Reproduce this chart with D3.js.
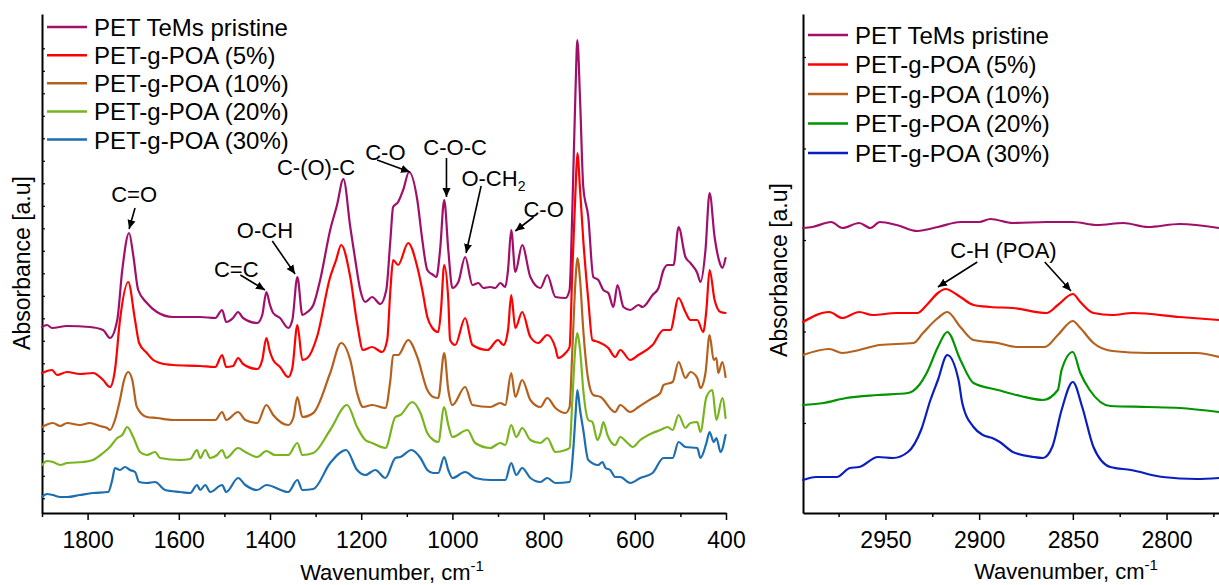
<!DOCTYPE html>
<html>
<head>
<meta charset="utf-8">
<script src="https://cdn.jsdelivr.net/npm/d3@7"></script>
<style>
  html, body { margin: 0; padding: 0; background: #fff; }
  svg { display: block; }
  text { font-family: "Liberation Sans", Arial, sans-serif; fill: #000; }
</style>
</head>
<body>
<svg id="chart" width="1219" height="585"></svg>
<script>
// ---------------- DATA ----------------
const seriesNames = ["PET TeMs pristine", "PET-g-POA (5%)", "PET-g-POA (10%)", "PET-g-POA (20%)", "PET-g-POA (30%)"];
const leftColors = ["#A0106A", "#FF0000", "#B5601C", "#78B41E", "#1C6EB0"];
const rightColors = ["#A0106A", "#FF0000", "#B5601C", "#009400", "#0A1EC0"];

const xTicksLeftMajor = [1800, 1600, 1400, 1200, 1000, 800, 600, 400];
const xTicksLeftMinor = [1900, 1700, 1500, 1300, 1100, 900, 700, 500];
const xTicksRightMajor = [2950, 2900, 2850, 2800];
const xTicksRightMinor = [2975, 2925, 2875, 2825, 2775];

// Left panel spectra: [wavenumber cm-1, absorbance a.u. (stacked)]
const leftPristine = [[1900,1.86],[1889,1.88],[1878,1.85],[1845,1.87],[1795,1.86],[1766,1.83],[1751,1.75],[1735,1.93],[1724,2.43],[1709,2.80],[1700,2.58],[1689,2.23],[1670,2.10],[1648,2.01],[1613,1.96],[1553,1.96],[1520,1.95],[1505,2.03],[1496,1.91],[1481,1.95],[1470,2.01],[1459,1.95],[1428,1.90],[1417,1.98],[1408,2.21],[1400,2.08],[1393,2.00],[1378,1.95],[1360,1.85],[1351,1.93],[1340,2.36],[1329,1.98],[1318,2.01],[1305,2.08],[1290,2.33],[1268,2.83],[1253,3.08],[1239,3.34],[1224,2.86],[1213,2.53],[1202,2.23],[1191,2.11],[1176,2.16],[1158,2.09],[1145,2.23],[1136,2.73],[1130,3.06],[1119,3.11],[1108,3.23],[1095,3.41],[1077,3.13],[1066,2.73],[1055,2.43],[1042,2.38],[1035,2.36],[1027,2.63],[1018,3.13],[1009,2.63],[1000,2.25],[987,2.31],[972,2.56],[956,2.28],[943,2.30],[932,2.25],[917,2.26],[906,2.25],[895,2.30],[884,2.26],[878,2.43],[871,2.83],[862,2.41],[847,2.68],[829,2.36],[807,2.25],[792,2.38],[774,2.16],[752,2.15],[743,2.23],[737,3.03],[730,4.23],[726,4.73],[720,4.13],[713,3.26],[702,2.96],[691,2.36],[680,2.33],[669,2.23],[658,2.20],[647,2.06],[638,2.28],[625,2.06],[610,2.03],[592,2.08],[583,2.06],[561,2.18],[548,2.25],[537,2.43],[528,2.48],[515,2.48],[504,2.86],[489,2.56],[478,2.50],[463,2.40],[456,2.31],[445,2.63],[436,3.20],[425,2.76],[412,2.48],[408,2.45],[401,2.55]];

const left5 = [[1900,1.40],[1878,1.43],[1867,1.38],[1845,1.41],[1817,1.39],[1788,1.40],[1766,1.33],[1751,1.26],[1740,1.43],[1729,1.93],[1711,2.31],[1696,1.93],[1687,1.70],[1670,1.60],[1656,1.53],[1641,1.50],[1613,1.48],[1553,1.47],[1520,1.46],[1505,1.58],[1496,1.46],[1481,1.47],[1470,1.55],[1459,1.49],[1428,1.44],[1417,1.53],[1408,1.75],[1400,1.61],[1393,1.53],[1378,1.46],[1360,1.36],[1351,1.45],[1340,1.88],[1329,1.53],[1318,1.55],[1297,1.76],[1268,2.36],[1255,2.53],[1244,2.68],[1224,2.36],[1209,1.90],[1196,1.63],[1176,1.66],[1154,1.61],[1143,1.73],[1136,2.23],[1130,2.53],[1119,2.48],[1097,2.70],[1077,2.46],[1066,2.23],[1055,1.96],[1044,1.85],[1031,1.81],[1025,2.03],[1018,2.48],[1009,2.13],[1005,1.73],[994,1.68],[972,1.95],[956,1.68],[923,1.63],[900,1.73],[888,1.68],[878,1.83],[871,2.18],[862,1.85],[847,2.01],[829,1.76],[812,1.70],[792,1.78],[774,1.65],[768,1.55],[752,1.60],[743,1.66],[737,2.43],[730,3.23],[726,3.60],[720,3.23],[713,2.73],[702,2.13],[693,1.73],[680,1.71],[658,1.65],[643,1.56],[632,1.63],[610,1.53],[592,1.58],[561,1.68],[537,1.83],[522,1.83],[504,2.15],[489,2.01],[478,1.93],[463,1.93],[450,1.81],[443,2.03],[436,2.43],[425,2.13],[412,2.01],[401,2.00]];

const left10 = [[1900,0.86],[1876,0.90],[1860,0.87],[1845,0.90],[1817,0.88],[1795,0.90],[1773,0.87],[1757,0.85],[1751,0.83],[1740,0.93],[1729,1.13],[1720,1.33],[1711,1.41],[1702,1.33],[1692,1.06],[1670,0.96],[1648,0.95],[1613,0.93],[1553,0.93],[1520,0.93],[1505,1.01],[1496,0.93],[1470,1.01],[1454,0.93],[1428,0.90],[1408,1.08],[1393,0.98],[1360,0.88],[1349,0.95],[1340,1.16],[1329,0.96],[1305,1.00],[1268,1.40],[1244,1.70],[1224,1.53],[1209,1.20],[1196,1.06],[1176,1.08],[1147,1.05],[1136,1.33],[1130,1.58],[1119,1.58],[1097,1.73],[1077,1.56],[1055,1.23],[1042,1.16],[1031,1.15],[1018,1.60],[1009,1.23],[1000,1.08],[972,1.26],[956,1.08],[917,1.06],[895,1.10],[884,1.08],[871,1.40],[862,1.16],[847,1.33],[829,1.13],[807,1.06],[792,1.15],[774,1.05],[752,1.00],[743,1.06],[737,1.63],[730,2.33],[726,2.55],[720,2.33],[713,1.83],[702,1.33],[691,1.18],[675,1.16],[643,1.01],[632,1.08],[610,1.01],[592,1.06],[561,1.15],[544,1.20],[537,1.28],[517,1.31],[504,1.51],[489,1.35],[478,1.41],[463,1.35],[456,1.25],[445,1.40],[436,1.78],[427,1.53],[421,1.55],[417,1.40],[408,1.51],[401,1.36]];

const left20 = [[1900,0.48],[1889,0.52],[1876,0.51],[1860,0.48],[1845,0.50],[1810,0.51],[1788,0.53],[1766,0.60],[1751,0.66],[1735,0.75],[1724,0.78],[1713,0.86],[1700,0.76],[1685,0.61],[1670,0.58],[1652,0.61],[1641,0.55],[1597,0.53],[1575,0.54],[1560,0.63],[1553,0.55],[1542,0.63],[1531,0.55],[1516,0.58],[1505,0.63],[1496,0.55],[1470,0.65],[1454,0.61],[1428,0.56],[1408,0.62],[1389,0.58],[1360,0.58],[1340,0.70],[1329,0.58],[1305,0.60],[1268,0.83],[1231,1.08],[1209,0.86],[1191,0.73],[1176,0.70],[1147,0.65],[1125,0.96],[1114,0.98],[1088,1.11],[1070,1.00],[1055,0.80],[1042,0.73],[1031,0.71],[1018,1.06],[1009,0.88],[1000,0.76],[967,0.83],[950,0.70],[917,0.65],[895,0.70],[884,0.68],[871,0.88],[860,0.76],[847,0.85],[829,0.73],[807,0.70],[792,0.75],[774,0.61],[752,0.63],[743,0.65],[737,1.13],[730,1.68],[726,1.80],[720,1.63],[713,1.23],[702,0.93],[693,0.91],[682,0.73],[675,0.80],[669,0.91],[660,0.78],[643,0.68],[632,0.76],[616,0.70],[605,0.66],[588,0.73],[561,0.80],[544,0.83],[528,0.86],[517,0.83],[504,0.98],[489,0.85],[478,0.90],[463,0.91],[456,0.81],[443,1.16],[430,1.23],[421,0.93],[408,1.15],[401,0.95]];

const left30 = [[1900,0.16],[1889,0.19],[1876,0.18],[1860,0.16],[1845,0.16],[1817,0.18],[1788,0.20],[1755,0.21],[1746,0.33],[1740,0.45],[1729,0.43],[1718,0.46],[1707,0.43],[1696,0.41],[1687,0.31],[1670,0.30],[1652,0.31],[1630,0.23],[1597,0.21],[1575,0.20],[1560,0.28],[1553,0.23],[1542,0.28],[1531,0.21],[1505,0.28],[1496,0.21],[1470,0.35],[1454,0.28],[1428,0.23],[1408,0.28],[1360,0.21],[1340,0.33],[1329,0.23],[1305,0.24],[1268,0.50],[1233,0.63],[1209,0.43],[1191,0.38],[1169,0.43],[1147,0.35],[1125,0.55],[1114,0.56],[1090,0.63],[1070,0.55],[1055,0.43],[1042,0.40],[1031,0.40],[1018,0.56],[1009,0.43],[1000,0.35],[972,0.41],[950,0.35],[917,0.33],[884,0.33],[871,0.50],[860,0.38],[847,0.45],[829,0.35],[807,0.31],[792,0.35],[774,0.30],[743,0.31],[735,0.63],[730,0.98],[726,1.23],[720,1.03],[713,0.83],[702,0.53],[680,0.48],[671,0.51],[664,0.45],[654,0.43],[643,0.36],[632,0.36],[610,0.30],[588,0.35],[561,0.40],[537,0.55],[517,0.55],[504,0.71],[489,0.66],[463,0.65],[456,0.55],[443,0.70],[436,0.81],[427,0.71],[421,0.75],[412,0.61],[401,0.78]];

// Right panel spectra (C-H region)
const rightPristine = [[2994,2.85],[2989,2.86],[2979,2.91],[2973,2.85],[2964,2.90],[2958,2.85],[2953,2.91],[2944,2.88],[2933,2.82],[2922,2.86],[2910,2.91],[2900,2.91],[2894,2.94],[2882,2.90],[2864,2.91],[2850,2.91],[2837,2.88],[2823,2.90],[2810,2.86],[2793,2.89],[2772,2.85]];
const right5 = [[2994,1.91],[2980,2.01],[2973,1.95],[2964,2.01],[2957,1.98],[2944,2.00],[2933,2.00],[2928,2.08],[2922,2.20],[2918,2.24],[2910,2.16],[2903,2.08],[2894,2.06],[2882,2.05],[2864,2.00],[2858,2.08],[2850,2.19],[2846,2.11],[2839,2.00],[2829,1.98],[2818,2.00],[2793,1.96],[2772,1.93]];
const right10 = [[2994,1.58],[2980,1.64],[2973,1.60],[2964,1.63],[2953,1.68],[2935,1.70],[2930,1.80],[2922,1.95],[2917,2.01],[2910,1.86],[2903,1.73],[2890,1.70],[2880,1.66],[2865,1.66],[2858,1.78],[2850,1.92],[2846,1.85],[2839,1.70],[2829,1.62],[2810,1.60],[2784,1.60],[2772,1.56]];
const right20 = [[2994,1.08],[2983,1.10],[2971,1.15],[2954,1.18],[2938,1.20],[2932,1.28],[2928,1.40],[2922,1.66],[2917,1.81],[2910,1.53],[2903,1.30],[2890,1.23],[2878,1.17],[2866,1.13],[2858,1.23],[2856,1.43],[2850,1.61],[2846,1.40],[2841,1.23],[2830,1.07],[2810,1.06],[2793,1.05],[2772,1.01]];
const right30 = [[2994,0.33],[2987,0.36],[2976,0.36],[2969,0.45],[2964,0.46],[2954,0.56],[2946,0.55],[2938,0.61],[2931,0.83],[2926,1.13],[2922,1.33],[2917,1.58],[2911,1.33],[2909,1.10],[2903,0.86],[2898,0.78],[2893,0.75],[2889,0.71],[2882,0.61],[2871,0.56],[2866,0.55],[2861,0.66],[2856,1.03],[2850,1.31],[2845,1.06],[2839,0.66],[2830,0.46],[2819,0.43],[2802,0.36],[2784,0.34],[2772,0.35]];

// Annotations: label, text anchor point [wn, abs], arrow from/to [wn, abs]
const leftAnnotations = [
  {label: "C=O", at: [1698, 3.11], from: [1696, 3.05], to: [1709, 2.84]},
  {label: "C=C", at: [1474, 2.36], from: [1465, 2.38], to: [1411, 2.23]},
  {label: "O-CH", at: [1411, 2.75], from: [1395, 2.72], to: [1345, 2.39]},
  {label: "C-(O)-C", at: [1299, 3.38]},
  {label: "C-O", at: [1147, 3.53], from: [1165, 3.53], to: [1093, 3.41]},
  {label: "C-O-C", at: [994, 3.58], from: [1013, 3.55], to: [1013, 3.16]},
  {label: "O-CH", sub: "2", at: [910, 3.27], from: [937, 3.27], to: [970, 2.60]},
  {label: "C-O", at: [800, 2.96], from: [822, 2.96], to: [862, 2.82]}
];
const rightAnnotations = [
  {label: "C-H (POA)", at: [2887, 2.55]},
  {from: [2901, 2.51], to: [2922, 2.26]},
  {from: [2865, 2.51], to: [2851, 2.22]}
];

// ---------------- DRAWING ----------------
const svg = d3.select("#chart");
svg.append("rect").attr("width", 1219).attr("height", 585).attr("fill", "#fff");

svg.append("defs").append("marker")
  .attr("id", "arrow").attr("viewBox", "0 0 10 10")
  .attr("refX", 10).attr("refY", 5)
  .attr("markerWidth", 9).attr("markerHeight", 9)
  .attr("markerUnits", "userSpaceOnUse")
  .attr("orient", "auto")
  .append("path").attr("d", "M0,0.5 L10,5 L0,9.5 Z").attr("fill", "#000");

const plotTop = 14, plotBottom = 513;
const yL = d3.scaleLinear().domain([0, 4.99]).range([plotBottom, plotTop]);
const yR = d3.scaleLinear().domain([0, 4.99]).range([plotBottom, plotTop]);
const xL = d3.scaleLinear().domain([1900, 400]).range([42, 726]);
const xR = d3.scaleLinear().domain([2994, 2772]).range([803, 1219]);

const yTicksLeft = d3.range(0, 21).map(k => 0.147 + k * 0.225);
const yTicksRight = d3.range(0, 5).map(k => 0.90 + k * 0.915);

function drawPanel(x, y, majors, minors, yTicks, series, colors) {
  const g = svg.append("g");
  g.append("g").attr("transform", `translate(0,${plotBottom})`)
    .call(d3.axisBottom(x).tickValues(minors).tickSize(4).tickSizeOuter(0).tickFormat(""))
    .call(a => a.select(".domain").remove())
    .call(a => a.selectAll("line").attr("stroke", "#000").attr("stroke-width", 1.5));
  g.append("g").attr("transform", `translate(0,${plotBottom})`)
    .call(d3.axisBottom(x).tickValues(majors).tickSize(7).tickSizeOuter(0).tickPadding(12).tickFormat(d3.format("d")))
    .call(a => a.select(".domain").attr("stroke", "#000").attr("stroke-width", 2))
    .call(a => a.selectAll("line").attr("stroke", "#000").attr("stroke-width", 1.5))
    .call(a => a.selectAll("text").attr("font-size", 23).attr("font-family", '"Liberation Sans", Arial, sans-serif').attr("fill", "#000"));
  g.append("g").attr("transform", `translate(${x.range()[0]},0)`)
    .call(d3.axisRight(y).tickValues(yTicks).tickSize(3).tickSizeOuter(0).tickFormat(""))
    .call(a => a.select(".domain").attr("stroke", "#000").attr("stroke-width", 2))
    .call(a => a.selectAll("line").attr("stroke", "#000").attr("stroke-width", 1.2));

  const line = d3.line().x(d => x(d[0])).y(d => y(d[1])).curve(d3.curveMonotoneX);
  series.forEach((s, i) => {
    g.append("path").datum(s).attr("d", line)
      .attr("fill", "none").attr("stroke", colors[i]).attr("stroke-width", 2.2)
      .attr("stroke-linejoin", "round").attr("stroke-linecap", "round");
  });
  return g;
}

drawPanel(xL, yL, xTicksLeftMajor, xTicksLeftMinor, yTicksLeft,
  [leftPristine, left5, left10, left20, left30], leftColors);
drawPanel(xR, yR, xTicksRightMajor, xTicksRightMinor, yTicksRight,
  [rightPristine, right5, right10, right20, right30], rightColors);

function drawLegend(x0, y0, step, colors, textOffset) {
  const lg = svg.append("g");
  seriesNames.forEach((n, i) => {
    const yy = y0 + i * step;
    lg.append("line").attr("x1", x0).attr("x2", x0 + 40).attr("y1", yy).attr("y2", yy)
      .attr("stroke", colors[i]).attr("stroke-width", 2.5);
    lg.append("text").attr("x", x0 + 47).attr("y", yy + textOffset)
      .attr("font-size", 24).text(n);
  });
}
drawLegend(47, 27, 28.15, leftColors, 9);
drawLegend(808, 35, 29.5, rightColors, 8.5);

function drawAnn(list, x, y) {
  list.forEach(a => {
    if (a.label) {
      const t = svg.append("text").attr("x", x(a.at[0])).attr("y", y(a.at[1]))
        .attr("font-size", 22).attr("text-anchor", "middle");
      t.append("tspan").text(a.label);
      if (a.sub) t.append("tspan").attr("dy", 5).attr("font-size", 14).text(a.sub);
    }
    if (a.from) {
      svg.append("line")
        .attr("x1", x(a.from[0])).attr("y1", y(a.from[1]))
        .attr("x2", x(a.to[0])).attr("y2", y(a.to[1]))
        .attr("stroke", "#000").attr("stroke-width", 1.6)
        .attr("marker-end", "url(#arrow)");
    }
  });
}
drawAnn(leftAnnotations, xL, yL);
drawAnn(rightAnnotations, xR, yR);

function xTitle(cx, cy) {
  const t = svg.append("text").attr("x", cx).attr("y", cy).attr("font-size", 22).attr("text-anchor", "middle");
  t.append("tspan").text("Wavenumber, cm");
  t.append("tspan").attr("dy", -9).attr("font-size", 15).text("-1");
}
xTitle(392, 580);
xTitle(1066, 579);

function yTitle(cx, cy) {
  svg.append("text").attr("transform", `translate(${cx},${cy}) rotate(-90)`)
    .attr("font-size", 23).attr("text-anchor", "middle").text("Absorbance [a.u]");
}
yTitle(30, 263);
yTitle(787, 270);
</script>
</body>
</html>
